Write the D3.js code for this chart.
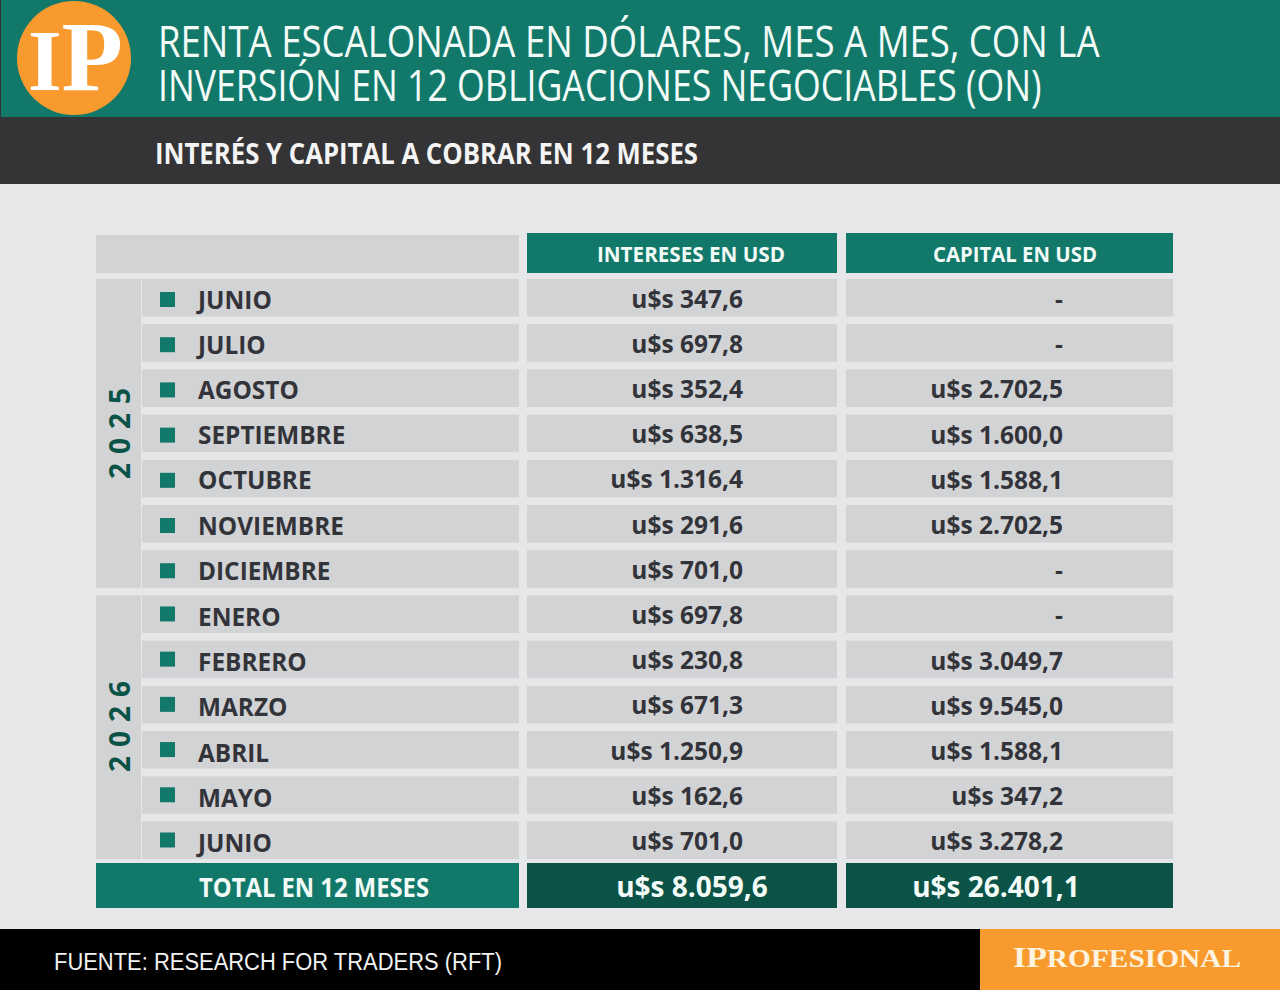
<!DOCTYPE html>
<html>
<head>
<meta charset="utf-8">
<script src="https://cdn.jsdelivr.net/npm/d3@7"></script>
<style>
  html, body { margin: 0; padding: 0; background: #e6e7e9; }
  svg { display: block; }
  text { font-family: "Open Sans", sans-serif; }
</style>
</head>
<body>
<svg id="chart" width="1280" height="990"></svg>
<script>
const titleLines = [
  "RENTA ESCALONADA EN DÓLARES, MES A MES, CON LA",
  "INVERSIÓN EN 12 OBLIGACIONES NEGOCIABLES (ON)"
];
const subtitle = "INTERÉS Y CAPITAL A COBRAR EN 12 MESES";
const columnHeaders = ["INTERESES EN USD", "CAPITAL EN USD"];
const months = ["JUNIO", "JULIO", "AGOSTO", "SEPTIEMBRE", "OCTUBRE", "NOVIEMBRE", "DICIEMBRE",
  "ENERO", "FEBRERO", "MARZO", "ABRIL", "MAYO", "JUNIO"];
const interest = [347.6, 697.8, 352.4, 638.5, 1316.4, 291.6, 701.0,
  697.8, 230.8, 671.3, 1250.9, 162.6, 701.0];
const capital = [null, null, 2702.5, 1600.0, 1588.1, 2702.5, null,
  null, 3049.7, 9545.0, 1588.1, 347.2, 3278.2];
const years = [["2025", 0, 6], ["2026", 7, 12]];
const totalLabel = "TOTAL EN 12 MESES";
const totalInterest = 8059.6;
const totalCapital = 26401.1;
const source = "FUENTE: RESEARCH FOR TRADERS (RFT)";

const teal = "#12796a";
const darkTeal = "#0b5247";
const cellGrey = "#d2d3d5";
const ink = "#33343a";
const orange = "#f99a2e";

const svg = d3.select("#chart");

const money = d3.formatLocale({
  decimal: ",", thousands: ".", grouping: [3], currency: ["u$s ", ""]
}).format("$,.1f");
const moneyOrDash = (v) => (v === null ? "-" : money(v));

// text squeezed to the measured width, the original face is narrower than Open Sans
function fitText(sel, width) {
  sel.attr("textLength", width).attr("lengthAdjust", "spacingAndGlyphs");
}

// same squeeze through a transform, so the box of the long title lines stays inside the page
function squeezeTo(sel, x, y, width) {
  const natural = sel.node().getComputedTextLength();
  sel.attr("transform", `translate(${x},${y}) scale(${width / natural},1)`);
}

// header
svg.append("rect").attr("width", 1280).attr("height", 184).attr("fill", "#343335");
svg.append("rect").attr("x", 1).attr("width", 1279).attr("height", 117).attr("fill", teal);
svg.append("ellipse").attr("cx", 74).attr("cy", 58).attr("rx", 57).attr("ry", 57).attr("fill", orange);
const logo = svg.append("text").attr("x", 28).attr("y", 90)
  .style("font-family", "'Liberation Serif', serif").style("font-weight", 700).attr("fill", "#fff");
logo.append("tspan").style("font-size", "86px").text("I");
logo.append("tspan").style("font-size", "100px").text("P");
logo.call(fitText, 95);

const titleWidths = [942, 884];
titleLines.forEach((line, i) => {
  svg.append("text")
    .style("font-size", "44px").attr("fill", "#f2fbf8").text(line)
    .call(squeezeTo, 158, 57 + i * 44, titleWidths[i]);
});
svg.append("text").attr("x", 155).attr("y", 164)
  .style("font-size", "29px").style("font-weight", 700).attr("fill", "#f4f4f4").text(subtitle)
  .call(fitText, 543);

// table
const y = d3.scaleBand().domain(d3.range(months.length)).range([279, 859]).paddingInner(0.17).paddingOuter(0);

const col = { labelX: 96, yearW: 45, rowX: 142, rowEnd: 519, intX: 527, intW: 310, capX: 846, capW: 327 };

svg.append("rect").attr("x", col.labelX).attr("y", 235).attr("width", col.rowEnd - col.labelX).attr("height", 38).attr("fill", cellGrey);

const headerX = [col.intX, col.capX];
const headerW = [col.intW, col.capW];
const headerMid = [691, 1015];
const headerTextW = [188, 164];
columnHeaders.forEach((h, i) => {
  svg.append("rect").attr("x", headerX[i]).attr("y", 233).attr("width", headerW[i]).attr("height", 40).attr("fill", teal);
  svg.append("text").attr("x", headerMid[i]).attr("y", 262).attr("text-anchor", "middle")
    .style("font-size", "22px").style("font-weight", 700).attr("fill", "#f2fbf8").text(h)
    .call(fitText, headerTextW[i]);
});

// year blocks, the 2026 label sits above the middle of its block as in the original
const yearMid = [429, 722];
years.forEach(([year, first, last], i) => {
  const top = y(first);
  const bottom = y(last) + y.bandwidth();
  svg.append("rect").attr("x", col.labelX).attr("y", top).attr("width", col.yearW).attr("height", bottom - top).attr("fill", cellGrey);
  svg.append("text")
    .attr("transform", `translate(130,${yearMid[i]}) rotate(-90)`)
    .attr("text-anchor", "middle")
    .style("font-size", "28px").style("font-weight", 700).style("letter-spacing", "9px")
    .attr("fill", darkTeal).text(year);
});

const rows = svg.append("g").selectAll("g").data(months).join("g")
  .attr("transform", (d, i) => `translate(0,${y(i)})`);

rows.append("rect").attr("x", col.rowX).attr("width", col.rowEnd - col.rowX).attr("height", y.bandwidth()).attr("fill", cellGrey);
rows.append("rect").attr("x", col.intX).attr("width", col.intW).attr("height", y.bandwidth()).attr("fill", cellGrey);
rows.append("rect").attr("x", col.capX).attr("width", col.capW).attr("height", y.bandwidth()).attr("fill", cellGrey);
rows.append("rect").attr("x", 160).attr("y", (d, i) => (i < 7 ? 13 : 11)).attr("width", 15).attr("height", 15).attr("fill", teal);

rows.append("text").attr("x", 198).attr("y", (d, i) => (i < 7 ? 29.5 : 30.5))
  .style("font-size", "25px").style("font-weight", 700).attr("fill", ink).text((d) => d)
  .each(function () {
    d3.select(this).attr("textLength", this.getComputedTextLength() * 0.975).attr("lengthAdjust", "spacingAndGlyphs");
  });

rows.append("text").attr("x", 743).attr("y", 28.5).attr("text-anchor", "end")
  .style("font-size", "24.5px").style("font-weight", 700).attr("fill", ink)
  .text((d, i) => moneyOrDash(interest[i]));

rows.append("text").attr("x", 1063).attr("y", 29).attr("text-anchor", "end")
  .style("font-size", "24.5px").style("font-weight", 700).attr("fill", ink)
  .text((d, i) => moneyOrDash(capital[i]));

// total row
svg.append("rect").attr("x", col.labelX).attr("y", 863).attr("width", col.rowEnd - col.labelX).attr("height", 45).attr("fill", teal);
svg.append("rect").attr("x", col.intX).attr("y", 863).attr("width", col.intW).attr("height", 45).attr("fill", darkTeal);
svg.append("rect").attr("x", col.capX).attr("y", 863).attr("width", col.capW).attr("height", 45).attr("fill", darkTeal);
svg.append("text").attr("x", 199).attr("y", 897)
  .style("font-size", "26px").style("font-weight", 700).attr("fill", "#f2fbf8").text(totalLabel)
  .call(fitText, 230);
svg.append("text").attr("x", 692).attr("y", 897).attr("text-anchor", "middle")
  .style("font-size", "28px").style("font-weight", 700).attr("fill", "#f2fbf8").text(money(totalInterest));
svg.append("text").attr("x", 996).attr("y", 897).attr("text-anchor", "middle")
  .style("font-size", "28px").style("font-weight", 700).attr("fill", "#f2fbf8").text(money(totalCapital));

// footer
svg.append("rect").attr("y", 929).attr("width", 1280).attr("height", 61).attr("fill", "#000");
svg.append("rect").attr("x", 980).attr("y", 929).attr("width", 300).attr("height", 61).attr("fill", orange);
svg.append("text").attr("x", 54).attr("y", 970)
  .style("font-family", "'Liberation Sans', sans-serif").style("font-size", "23px").attr("fill", "#f2f2f2").text(source)
  .call(fitText, 448);
const brand = svg.append("text").attr("x", 1013).attr("y", 967)
  .style("font-family", "'Liberation Serif', serif").style("font-weight", 700).style("font-size", "26px").attr("fill", "#fdf3df");
brand.append("tspan").style("font-size", "30px").text("IP");
brand.append("tspan").text("ROFESIONAL");
brand.call(fitText, 228);
</script>
</body>
</html>
